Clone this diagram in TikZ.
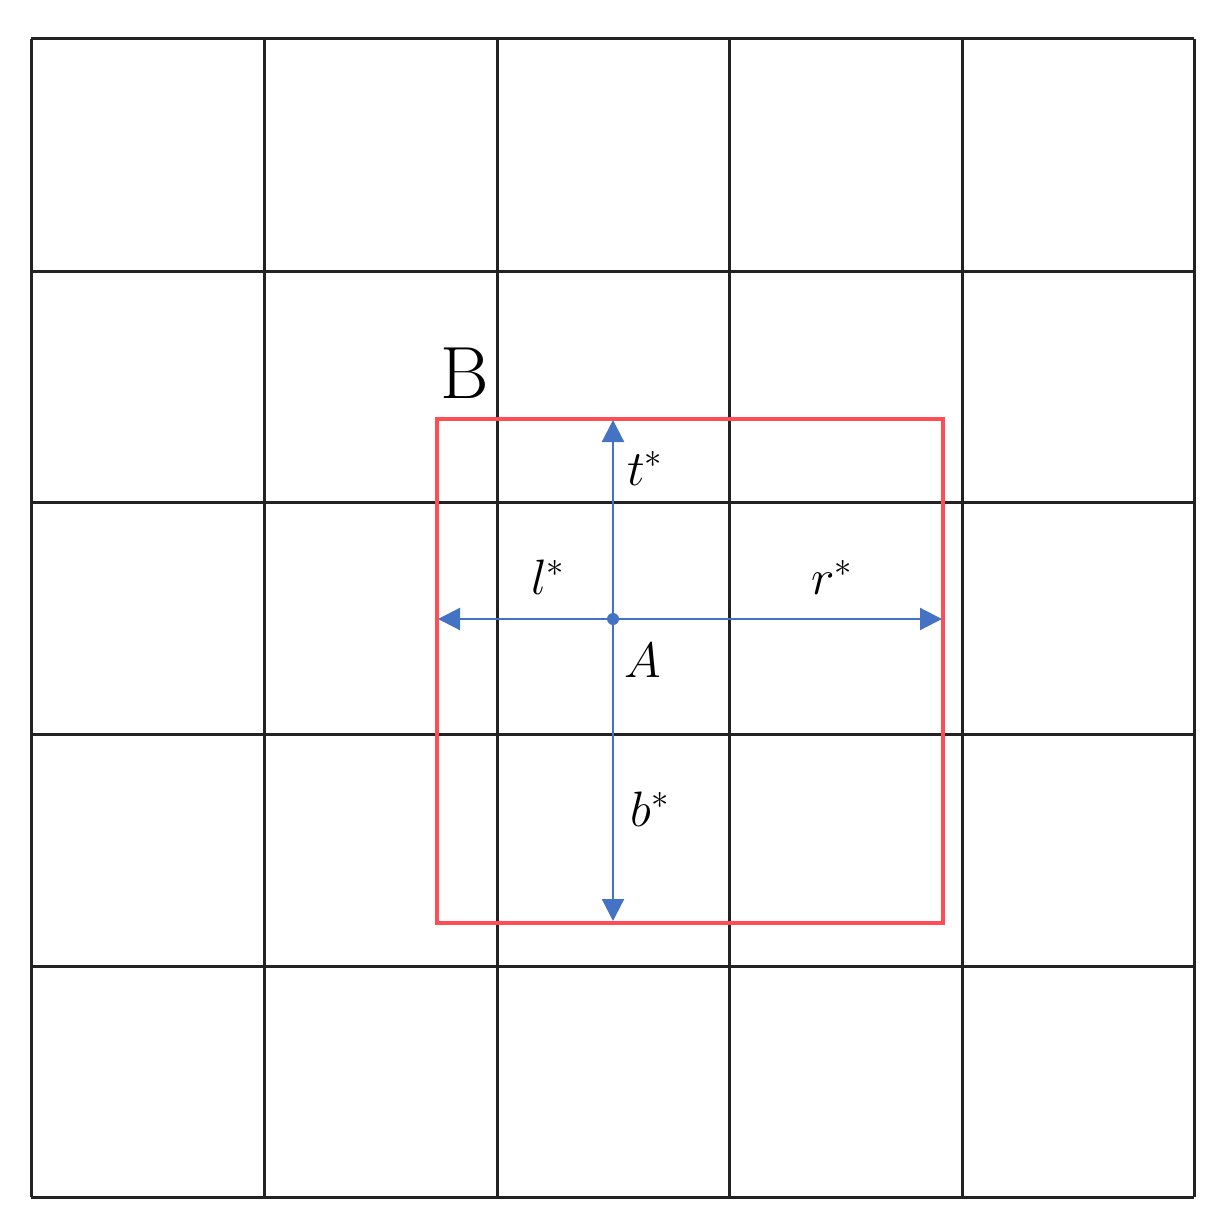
\documentclass[tikz,border=0pt]{standalone}
\usetikzlibrary{arrows.meta,calc}
\definecolor{gridgray}{HTML}{222222}
\definecolor{boxred}{HTML}{FF4D55}
\definecolor{arrowblue}{HTML}{4472C4}
\newcommand{\smallstar}{{\scriptscriptstyle *}}
\begin{document}
\begin{tikzpicture}[x=0.5pt,y=-0.5pt,
  gridline/.style={draw=gridgray,line width=1.5pt},
  redbox/.style={draw=boxred,line width=1.8pt,inner sep=0pt,minimum width=253pt,minimum height=252pt},
  bluearrow/.style={draw=arrowblue,line width=1.1pt,-{Triangle[length=11pt,width=11pt]}},
  lbl/.style={inner sep=0pt,font=\fontsize{37}{42}\selectfont}]
\useasboundingbox (0,0) rectangle (1220,1230);
% grid
\foreach \x in {31,264,497,729,962,1194}
  \draw[gridline] (\x,39) -- (\x,1197);
\foreach \y in {39,271,502,734,966,1197}
  \draw[gridline] (31,\y) -- (1194,\y);
% red box
\node[redbox] (box) at (690,671) {};
% point A
\node[circle,fill=arrowblue,inner sep=0pt,minimum size=6pt] (A) at (613,619) {};
\coordinate (T) at (613,420);
\coordinate (Bo) at (613,921);
\coordinate (L) at (438,619);
\coordinate (R) at (942,619);
\draw[bluearrow] (A.center) -- (T);
\draw[bluearrow] (A.center) -- (Bo);
\draw[bluearrow] (A.center) -- (L);
\draw[bluearrow] (A.center) -- (R);
% labels
\node[lbl] (lB) at (465,373) {B};
\node[lbl] (lt) at (645,468) {$t^{\smallstar}$};
\node[lbl] (ll) at (548,577) {$l^{\smallstar}$};
\node[lbl] (lr) at (832,577) {$r^{\smallstar}$};
\node[lbl] (lA) at (643,660) {$A$};
\node[lbl] (lb) at (650,809) {$b^{\smallstar}$};
\end{tikzpicture}
\end{document}
